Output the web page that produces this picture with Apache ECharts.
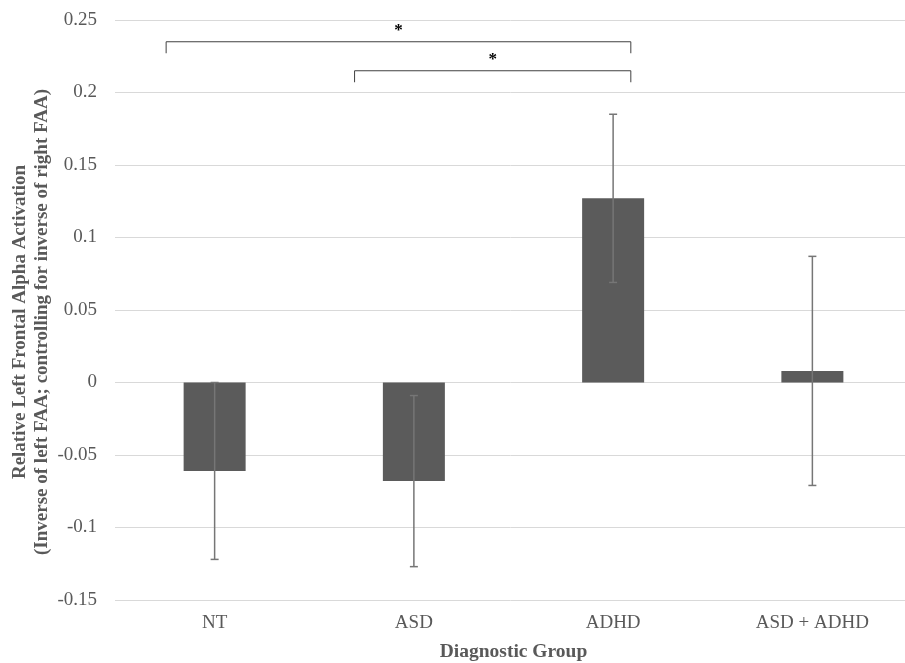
<!DOCTYPE html>
<html>
<head>
<meta charset="utf-8">
<script src="https://cdn.jsdelivr.net/npm/echarts@6/dist/echarts.min.js"></script>
<style>html,body{margin:0;padding:0;background:#fff}#c{width:905px;height:663px}</style>
</head>
<body>
<div id="c"></div>
<script>
const categories = ['NT', 'ASD', 'ADHD', 'ASD + ADHD'];
const means = [-0.061, -0.068, 0.127, 0.008];
const errors = [0.061, 0.059, 0.058, 0.079];
const yTicks = { min: -0.15, max: 0.25, interval: 0.05 };
const sigPairs = [['NT', 'ADHD'], ['ASD', 'ADHD']];
const sigLevels = [0.235, 0.215];
const sigLabels = ['*', '*'];

// pixel offsets of bracket ends from category centres (styling)
const bracketEndOffsets = [[-48.5, 17.7], [-59.3, 17.7]];

const chart = echarts.init(document.getElementById('c'), null, { renderer: 'canvas' });
const serif = 'Liberation Serif, Times New Roman, serif';
const txt = '#595959';

const errData = means.map((m, i) => [i, m - errors[i], m + errors[i]]);
const sigData = sigPairs.map((p, i) => [categories.indexOf(p[0]), categories.indexOf(p[1]), sigLevels[i], i]);

chart.setOption({
  animation: false,
  backgroundColor: '#fff',
  grid: { left: 115, top: 20, width: 797, height: 580, containLabel: false, outerBoundsMode: 'none' },
  xAxis: {
    type: 'category',
    data: categories,
    axisLine: { show: false },
    axisTick: { show: false },
    axisLabel: { color: txt, fontFamily: serif, fontSize: 19, margin: 14 },
    name: 'Diagnostic Group',
    nameLocation: 'middle',
    nameGap: 42,
    nameMoveOverlap: false,
    nameTextStyle: { color: txt, fontFamily: serif, fontSize: 19.5, fontWeight: 'bold' }
  },
  yAxis: {
    type: 'value',
    min: yTicks.min,
    max: yTicks.max,
    interval: yTicks.interval,
    axisLine: { show: false },
    axisTick: { show: false },
    splitLine: { lineStyle: { color: '#d9d9d9', width: 1 } },
    axisLabel: { color: txt, fontFamily: serif, fontSize: 19, margin: 18 },
    name: 'Relative Left Frontal Alpha Activation\n(Inverse of left FAA; controlling for inverse of right FAA)',
    nameLocation: 'middle',
    nameGap: 62,
    nameMoveOverlap: false,
    nameTextStyle: { color: txt, fontFamily: serif, fontSize: 19, fontWeight: 'bold', lineHeight: 22, align: 'center', padding: [0, 24, 0, 0] }
  },
  series: [
    {
      type: 'bar',
      data: means,
      barWidth: 62,
      itemStyle: { color: '#5b5b5b' },
      z: 2
    },
    {
      type: 'custom',
      data: errData,
      z: 3,
      renderItem: function (params, api) {
        const x = api.value(0);
        const lo = api.coord([x, api.value(1)]);
        const hi = api.coord([x, api.value(2)]);
        const cap = 4;
        const st = { stroke: '#767676', lineWidth: 1.5 };
        return {
          type: 'group',
          children: [
            { type: 'line', shape: { x1: lo[0], y1: lo[1], x2: hi[0], y2: hi[1] }, style: st },
            { type: 'line', shape: { x1: lo[0] - cap, y1: lo[1], x2: lo[0] + cap, y2: lo[1] }, style: st },
            { type: 'line', shape: { x1: hi[0] - cap, y1: hi[1], x2: hi[0] + cap, y2: hi[1] }, style: st }
          ]
        };
      }
    },
    {
      type: 'custom',
      data: sigData,
      z: 4,
      clip: false,
      renderItem: function (params, api) {
        const idx = api.value(3);
        const off = bracketEndOffsets[idx];
        const a = api.coord([api.value(0), api.value(2)]);
        const b = api.coord([api.value(1), api.value(2)]);
        const x1 = a[0] + off[0], x2 = b[0] + off[1], y = a[1];
        const drop = 11.5;
        return {
          type: 'group',
          children: [
            { type: 'polyline', shape: { points: [[x1, y + drop], [x1, y], [x2, y], [x2, y + drop]] },
              style: { stroke: '#404040', lineWidth: 1, fill: null } },
            { type: 'text', style: { text: sigLabels[idx], x: (x1 + x2) / 2, y: y - 3, align: 'center', verticalAlign: 'bottom',
              fill: '#000', font: 'bold 17px ' + serif } }
          ]
        };
      }
    }
  ]
});
</script>
</body>
</html>
